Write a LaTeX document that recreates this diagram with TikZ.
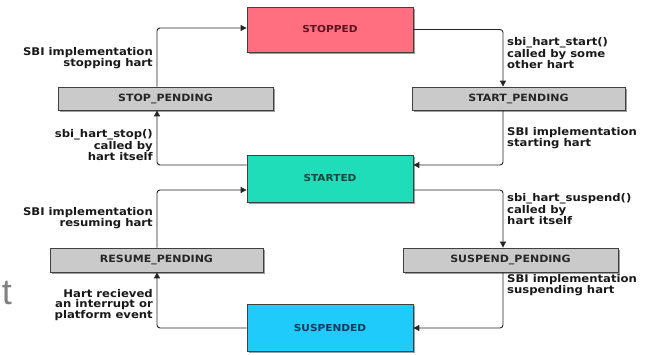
\documentclass[tikz,border=0pt]{standalone}
\usepackage{fontspec}
\newfontfamily\lblfont{DejaVu Sans}[FakeStretch=1.1]
\setmainfont{Liberation Sans}
\usetikzlibrary{arrows.meta,shadows,calc}

\definecolor{stoppedfill}{HTML}{FF6F80}
\definecolor{startedfill}{HTML}{1FDDB9}
\definecolor{suspendedfill}{HTML}{1FCBFA}
\definecolor{pendfill}{HTML}{CACACA}
\definecolor{stoppedtext}{HTML}{5A1420}
\definecolor{startedtext}{HTML}{10483C}
\definecolor{suspendedtext}{HTML}{0C3A58}

\tikzset{
  statebox/.style={rectangle, draw=black!75, line width=0.8pt,
    minimum width=166pt, minimum height=46pt, inner sep=0pt,
    font=\lblfont\bfseries\fontsize{9.6}{10}\selectfont,
    drop shadow={shadow xshift=1.6pt, shadow yshift=-1.6pt, opacity=0.55, fill=black!70}},
  pendbox/.style={rectangle, draw=black!75, line width=0.8pt, fill=pendfill,
    minimum height=23pt, inner sep=0pt, text=black!85,
    font=\lblfont\bfseries\fontsize{10}{10}\selectfont,
    drop shadow={shadow xshift=1.6pt, shadow yshift=-1.6pt, opacity=0.55, fill=black!70}},
  lbl/.style={inner sep=0pt, text=black!90,
    font=\lblfont\bfseries\fontsize{10.6}{10}\selectfont},
  flow/.style={draw=black!85, line width=0.9pt, rounded corners=3pt,
    -{Triangle[length=6pt,width=6pt]}},
}

\begin{document}
\begin{tikzpicture}[x=1pt,y=-1pt]
  \useasboundingbox (0,0) rectangle (645,355);

  % guide lines for the two columns of vertical connectors
  \coordinate (L) at (157,0);
  \coordinate (R) at (503,0);

  % main states
  \node[statebox, fill=stoppedfill, text=stoppedtext, minimum height=45pt]
    (stopped) at (330,29.5) {STOPPED};
  \node[statebox, fill=startedfill, text=startedtext, minimum height=47pt]
    (started) at (330,178.5) {STARTED};
  \node[statebox, fill=suspendedfill, text=suspendedtext, minimum height=47pt]
    (suspended) at (330,328) {SUSPENDED};

  % pending states
  \node[pendbox, minimum width=215pt] (stoppend) at (165.5,98.5) {STOP\_PENDING};
  \node[pendbox, minimum width=213pt] (startpend) at (518.5,98.5) {START\_PENDING};
  \node[pendbox, minimum width=213pt, minimum height=24pt] (respend) at (156.5,260) {RESUME\_PENDING};
  \node[pendbox, minimum width=215pt, minimum height=24pt] (susppend) at (510.5,260) {SUSPEND\_PENDING};

  % transitions
  \draw[flow] (stoppend.north -| L) |- ([yshift=1.5pt]stopped.west);
  \draw[flow] ([yshift=13.5pt]started.west) -| (stoppend.south -| L);
  \draw[flow] (stopped.east) -| (startpend.north -| R);
  \draw[flow] (startpend.south -| R) |- ([yshift=13.5pt]started.east);
  \draw[flow] (respend.north -| L) |- ([yshift=-11.5pt]started.west);
  \draw[flow] ([yshift=-11.5pt]started.east) -| (susppend.north -| R);
  \draw[flow] (susppend.south -| R) |- (suspended.east);
  \draw[flow] (suspended.west) -| (respend.south -| L);

  % transition labels
  \node[lbl, align=right, anchor=east] (t1) at (153,58) {SBI implementation\\stopping hart};
  \node[lbl, align=right, anchor=east] (t2) at (153,145) {sbi\_hart\_stop()\\called by\\hart itself};
  \node[lbl, align=left, anchor=west] (t3) at (507,53) {sbi\_hart\_start()\\called by some\\other hart};
  \node[lbl, align=left, anchor=west] (t4) at (507,138) {SBI implementation\\starting hart};
  \node[lbl, align=right, anchor=east] (t5) at (153,218) {SBI implementation\\resuming hart};
  \node[lbl, align=right, anchor=east] (t6) at (153,305) {Hart recieved\\an interrupt or\\platform event};
  \node[lbl, align=left, anchor=west] (t7) at (507,209) {sbi\_hart\_suspend()\\called by\\hart itself};
  \node[lbl, align=left, anchor=west] (t8) at (507,285) {SBI implementation\\suspending hart};

  % cut-off glyph at the left edge
  \node[inner sep=0pt, anchor=base, text=black!50, font=\fontsize{36}{36}\selectfont]
    (edge) at (7,305) {t};
\end{tikzpicture}
\end{document}
